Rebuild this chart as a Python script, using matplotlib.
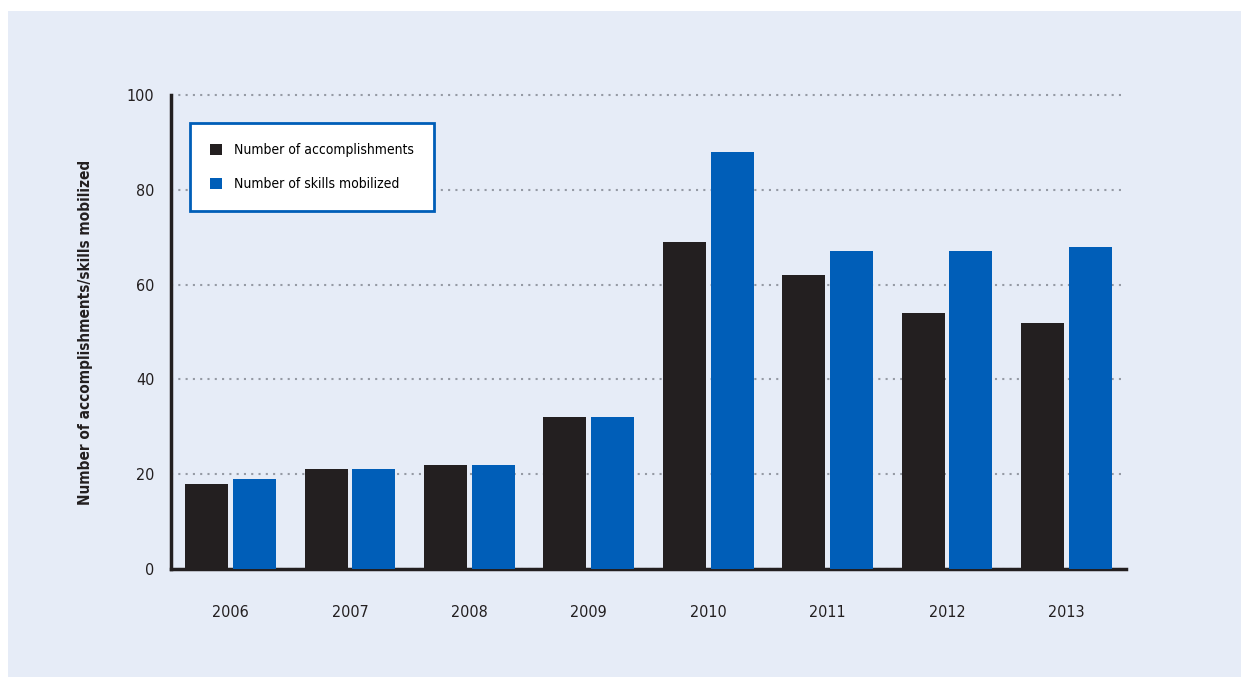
import matplotlib
matplotlib.use("Agg")
from matplotlib import pyplot as plt
from matplotlib.patches import Rectangle, Patch
import numpy as np

years = ["2006", "2007", "2008", "2009", "2010", "2011", "2012", "2013"]
accomplishments = [18, 21, 22, 32, 69, 62, 54, 52]
skills = [19, 21, 22, 32, 88, 67, 67, 68]

black = "#231f20"
blue = "#005eb8"
bg = "#e6ecf7"

plt.rcParams['font.family'] = ['DejaVu Sans']
plt.rcParams['font.stretch'] = 'condensed'

fig = plt.figure(figsize=(12.41, 6.77), dpi=100)
fig.patch.set_facecolor("white")
# light blue panel, leaving a thin white margin top and left
fig.patches.append(Rectangle((8 / 1241, 0), 1 - 8 / 1241, 1 - 11 / 677,
                             transform=fig.transFigure, facecolor=bg,
                             edgecolor="none", zorder=-10))

ax = fig.add_axes([171 / 1241, 1 - 569 / 677, (1126 - 171) / 1241, (569 - 95) / 677])
ax.set_facecolor("none")

x = np.arange(len(years))
w = 0.36
gap = 0.04
ax.bar(x - (w + gap) / 2, accomplishments, w, color=black, zorder=3)
ax.bar(x + (w + gap) / 2, skills, w, color=blue, zorder=3)

ax.set_xlim(-0.5, len(years) - 0.5)
ax.set_ylim(0, 100)
ax.set_yticks([0, 20, 40, 60, 80, 100])
ax.set_xticks(x)
ax.set_xticklabels(years)

ax.yaxis.grid(True, linestyle=(0, (1, 2.5)), color="#959aa4", linewidth=1.5, zorder=0)
ax.xaxis.grid(False)
for gl in ax.get_ygridlines():
    gl.set_clip_on(False)

for s in ["top", "right"]:
    ax.spines[s].set_visible(False)
ax.spines["left"].set_linewidth(2.5)
ax.spines["bottom"].set_linewidth(2.5)
ax.spines["left"].set_color(black)
ax.spines["bottom"].set_color(black)

ax.tick_params(axis="both", length=0, labelsize=11.5, colors="#231f20")
ax.tick_params(axis="y", pad=12)
ax.tick_params(axis="x", pad=26)

ax.set_ylabel("Number of accomplishments/skills mobilized", fontsize=11,
              fontweight="bold", color=black, labelpad=24)

handles = [Patch(facecolor=black, label="Number of accomplishments"),
           Patch(facecolor=blue, label="Number of skills mobilized")]
leg = ax.legend(handles=handles, loc="upper left",
                bbox_to_anchor=(19 / 955, 1 - 28 / 474), fontsize=10,
                frameon=True, fancybox=False, borderpad=1.45, labelspacing=1.45,
                handlelength=0.85, handleheight=0.85, handletextpad=0.9,
                borderaxespad=0)
leg.get_frame().set_edgecolor(blue)
leg.get_frame().set_linewidth(2)
leg.get_frame().set_facecolor("white")
leg.get_frame().set_alpha(1)

plt.savefig("out.png", dpi=100, facecolor=fig.get_facecolor())
